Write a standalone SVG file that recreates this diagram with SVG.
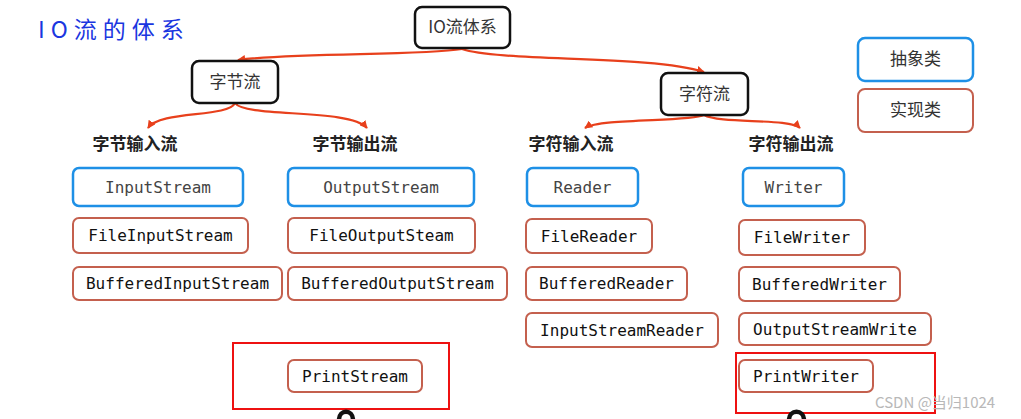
<svg xmlns="http://www.w3.org/2000/svg" width="1021" height="419" viewBox="0 0 1021 419">
<style>
.bg{fill:#ffffff}
.blk{fill:#fff;stroke:#111;stroke-width:2.5}
.abs{fill:#fff;stroke:#1e90e6;stroke-width:2.5}
.imp{fill:#fff;stroke:#c4604e;stroke-width:2}
.cn{font-family:"Noto Sans CJK SC","Noto Sans",sans-serif;font-size:17px;fill:#333;text-anchor:middle}
.cat{font-family:"Noto Sans CJK SC","Noto Sans",sans-serif;font-size:17px;font-weight:bold;fill:#222;text-anchor:middle}
.mono{font-family:"DejaVu Sans Mono","Liberation Mono",monospace;font-size:16px;fill:#111;text-anchor:middle}
.mono2{font-family:"DejaVu Sans Mono","Liberation Mono",monospace;font-size:16px;fill:#444;text-anchor:middle}
.conn{fill:none;stroke:#e8401c;stroke-width:2.2}
.hl{fill:none;stroke:#ee1111;stroke-width:2}
</style>
<defs>
<marker id="ah" viewBox="0 0 10 10" refX="9" refY="5" markerWidth="8" markerHeight="8" markerUnits="userSpaceOnUse" orient="auto">
<path d="M0,0 L10,5 L0,10 z" fill="#e8401c"/>
</marker>
</defs>
<rect class="bg" x="0" y="0" width="1021" height="419"/>
<text x="38" y="38" font-family="Noto Sans CJK SC, sans-serif" font-size="23" fill="#1a36e0" letter-spacing="6">IO流的体系</text>

<g id="connectors">
<path class="conn" d="M462,49 C420,56 300,52 238,60" marker-end="url(#ah)"/>
<path class="conn" d="M462,49 C500,62 650,55 704,72" marker-end="url(#ah)"/>
<path class="conn" d="M235,103 C228,118 160,110 148,128" marker-end="url(#ah)"/>
<path class="conn" d="M235,103 C245,118 350,108 367,128" marker-end="url(#ah)"/>
<path class="conn" d="M704,115 C690,122 600,118 585,128" marker-end="url(#ah)"/>
<path class="conn" d="M704,115 C720,124 790,118 800,128" marker-end="url(#ah)"/>
</g>

<g id="root"><rect class="blk" x="415" y="7" width="95" height="41" rx="7"/><text class="cn" x="462.5" y="33">IO流体系</text></g>
<g id="byte"><rect class="blk" x="192" y="61" width="86" height="42" rx="7"/><text class="cn" x="235" y="88">字节流</text></g>
<g id="char"><rect class="blk" x="661" y="73" width="87" height="42" rx="7"/><text class="cn" x="704.5" y="100">字符流</text></g>

<g id="legend-abs"><rect class="abs" x="858" y="38" width="115" height="43" rx="7"/><text class="cn" x="915.5" y="65">抽象类</text></g>
<g id="legend-imp"><rect class="imp" x="858" y="89" width="115" height="43" rx="7"/><text class="cn" x="915.5" y="116">实现类</text></g>

<g id="cat-bi"><text class="cat" x="135" y="150">字节输入流</text></g>
<g id="cat-bo"><text class="cat" x="355" y="150">字节输出流</text></g>
<g id="cat-ci"><text class="cat" x="571" y="150">字符输入流</text></g>
<g id="cat-co"><text class="cat" x="791" y="150">字符输出流</text></g>

<g id="InputStream"><rect class="abs" x="73" y="168" width="170" height="38" rx="6"/><text class="mono2" x="158" y="193">InputStream</text></g>
<g id="FileInputStream"><rect class="imp" x="73" y="218" width="175" height="35" rx="6"/><text class="mono" x="160.5" y="241">FileInputStream</text></g>
<g id="BufferedInputStream"><rect class="imp" x="73" y="267" width="209" height="33" rx="6"/><text class="mono" x="177.5" y="289">BufferedInputStream</text></g>

<g id="OutputStream"><rect class="abs" x="288" y="168" width="186" height="38" rx="6"/><text class="mono2" x="381" y="193">OutputStream</text></g>
<g id="FileOutputSteam"><rect class="imp" x="288" y="218" width="187" height="35" rx="6"/><text class="mono" x="381.5" y="241">FileOutputSteam</text></g>
<g id="BufferedOutputStream"><rect class="imp" x="288" y="267" width="219" height="33" rx="6"/><text class="mono" x="397.5" y="289">BufferedOutputStream</text></g>

<g id="Reader"><rect class="abs" x="527" y="168" width="111" height="38" rx="6"/><text class="mono2" x="582.5" y="193">Reader</text></g>
<g id="FileReader"><rect class="imp" x="526" y="219" width="126" height="34" rx="6"/><text class="mono" x="589" y="242">FileReader</text></g>
<g id="BufferedReader"><rect class="imp" x="526" y="267" width="161" height="33" rx="6"/><text class="mono" x="606.5" y="289">BufferedReader</text></g>
<g id="InputStreamReader"><rect class="imp" x="526" y="313" width="192" height="34" rx="6"/><text class="mono" x="622" y="336">InputStreamReader</text></g>

<g id="Writer"><rect class="abs" x="743" y="168" width="101" height="38" rx="6"/><text class="mono2" x="793.5" y="193">Writer</text></g>
<g id="FileWriter"><rect class="imp" x="739" y="220" width="126" height="35" rx="6"/><text class="mono" x="802" y="243">FileWriter</text></g>
<g id="BufferedWriter"><rect class="imp" x="739" y="267" width="161" height="34" rx="6"/><text class="mono" x="819.5" y="290">BufferedWriter</text></g>
<g id="OutputStreamWrite"><rect class="imp" x="739" y="313" width="192" height="32" rx="6"/><text class="mono" x="835" y="335">OutputStreamWrite</text></g>

<rect class="hl" x="233" y="343" width="216" height="66"/>
<g id="PrintStream"><rect class="imp" x="288" y="360" width="134" height="32" rx="6"/><text class="mono" x="355" y="382">PrintStream</text></g>
<rect class="hl" x="736" y="353" width="199" height="60"/>
<g id="PrintWriter"><rect class="imp" x="739" y="360" width="134" height="32" rx="6"/><text class="mono" x="806" y="382">PrintWriter</text></g>

<path d="M339,420 C339,409 353,409 353,420" fill="none" stroke="#111" stroke-width="4.5"/>
<path d="M789,420 C789,409 804,409 804,420" fill="none" stroke="#111" stroke-width="4.5"/>

<text x="875" y="408" font-family="Noto Sans CJK SC, sans-serif" font-size="15" fill="#b8b8b8">CSDN @当归1024</text>
</svg>
